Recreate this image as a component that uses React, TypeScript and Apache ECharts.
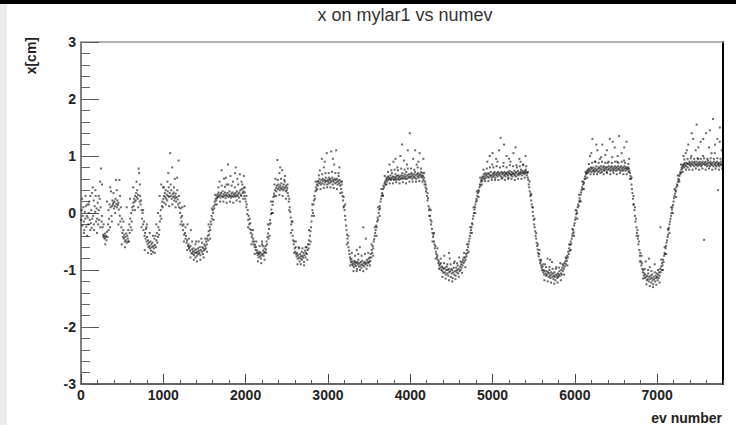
import React, { useEffect, useRef } from "react";
import * as echarts from "echarts";

const titleText = "x on mylar1 vs numev";
const xTitle = "ev number";
const yTitle = "x[cm]";

const cycle0 = [[4,-0.12],[10,0.05],[16,-0.22],[22,-0.05],[28,0.1],[34,-0.15],[40,-0.3],[46,0.02],[52,-0.1],[58,0.12],[64,-0.24],[70,-0.05],[76,0.15],[82,-0.08],[88,-0.2],[94,0.0],[100,0.2],[106,-0.12],[112,0.3],[118,-0.18],[124,0.05],[130,-0.26],[136,-0.1],[142,0.45],[148,-0.05],[154,0.22],[160,-0.3],[166,0.12],[172,0.02],[178,0.3],[184,-0.15],[190,0.08],[196,-0.1],[202,0.18],[208,-0.2],[214,0.05],[220,-0.12],[226,0.25],[232,0.55],[238,0.1],[244,0.78],[250,-0.15],[256,-0.05],[262,-0.25],[268,-0.38],[274,-0.42],[280,-0.4],[286,-0.45],[292,-0.36],[298,-0.43],[304,-0.4],[310,-0.48],[316,-0.33],[322,-0.42],[328,-0.2],[334,0.05],[340,-0.1],[346,0.15],[352,-0.25],[358,0.1],[364,0.38],[370,-0.05],[376,0.12],[382,0.22],[388,0.15],[394,0.18],[400,0.08],[406,0.2],[412,0.12],[418,0.25],[424,0.58],[430,0.16],[436,0.1],[442,0.22],[448,0.14],[454,0.18],[460,0.06],[466,0.58],[472,-0.05],[478,-0.15],[484,0.1],[490,-0.25],[496,-0.1],[502,-0.35],[508,-0.42],[514,-0.3],[520,-0.45],[526,-0.38],[532,-0.5],[538,-0.42],[544,-0.48],[550,-0.36],[556,-0.52],[562,-0.4],[568,-0.45],[574,-0.3],[580,-0.5],[586,-0.2],[592,-0.35],[598,-0.1],[604,-0.25],[610,0.0],[616,-0.15],[622,0.1],[628,0.05],[634,0.18],[640,0.12],[646,0.25],[652,0.2],[658,0.3],[664,0.22],[670,0.35],[676,0.28],[682,0.4],[688,0.25],[694,0.32],[700,0.78],[706,0.7],[712,0.2],[718,0.3],[724,0.15],[730,0.22],[736,0.05],[742,-0.1],[748,0.0],[754,-0.2],[760,-0.3],[766,-0.15],[772,-0.4],[778,-0.35],[784,-0.45],[790,-0.28],[796,-0.5],[802,-0.42],[808,-0.55],[814,-0.48],[820,-0.6],[826,-0.52],[832,-0.58],[838,-0.62],[844,-0.5],[850,-0.66],[856,-0.55],[862,-0.6],[868,-0.52],[874,-0.68],[880,-0.58],[886,-0.62],[892,-0.45],[898,-0.56],[904,-0.4],[910,-0.6],[916,-0.48],[922,-0.35],[928,-0.52],[934,-0.42],[940,-0.25],[946,-0.38],[952,-0.3],[958,-0.15],[964,-0.05],[970,0.05],[976,-0.1],[982,0.12],[988,0.2],[994,0.1]];

const cycle1 = [[1000,0.25],[1006,0.3],[1012,0.18],[1018,0.35],[1024,0.28],[1030,0.4],[1036,0.25],[1042,0.32],[1048,0.22],[1054,0.38],[1060,0.3],[1066,0.45],[1072,0.28],[1078,0.35],[1084,1.05],[1090,0.3],[1096,0.4],[1102,0.25],[1108,0.8],[1114,0.33],[1120,0.28],[1126,0.36],[1132,0.22],[1138,0.3],[1144,0.26],[1150,0.34],[1156,0.2],[1162,0.28],[1168,0.62],[1174,0.24],[1180,0.15],[1186,0.92],[1192,0.1],[1198,0.18],[1204,0.0],[1210,0.08],[1216,-0.08],[1222,-0.15],[1228,-0.05],[1234,-0.22],[1240,-0.3],[1246,-0.2],[1252,-0.38],[1258,0.12],[1264,-0.35],[1270,-0.45],[1276,-0.4],[1282,-0.52],[1288,-0.48],[1294,-0.2],[1300,-0.58],[1306,-0.55],[1312,-0.62],[1318,-0.6],[1324,-0.66],[1330,-0.58],[1336,-0.3],[1342,-0.7],[1348,-0.64],[1354,-0.72],[1360,-0.68],[1366,-0.62],[1372,-0.74],[1378,-0.66],[1384,-0.7],[1390,-0.78],[1396,-0.64],[1402,-0.7],[1408,-0.75],[1414,-0.68],[1420,-0.62],[1426,-0.72],[1432,-0.66],[1438,-0.7],[1444,-0.6],[1450,-0.74],[1456,-0.65],[1462,-0.45],[1468,-0.68],[1474,-0.6],[1480,-0.72],[1486,-0.62],[1492,-0.66],[1498,-0.55],[1504,-0.64],[1510,-0.58],[1516,-0.62],[1522,-0.5],[1528,-0.55],[1534,-0.45],[1540,-0.4],[1546,-0.48],[1552,-0.32],[1558,-0.38],[1564,-0.25],[1570,-0.3],[1576,-0.15],[1582,-0.2],[1588,-0.05],[1594,-0.1],[1600,0.05],[1606,0.0],[1612,0.12],[1618,0.08],[1624,0.2],[1630,0.15],[1636,0.25],[1642,0.22],[1648,0.3],[1654,0.26],[1660,0.33],[1666,0.28],[1672,0.36],[1678,0.3],[1684,0.55],[1690,0.32],[1696,0.27],[1702,0.35],[1708,0.75],[1714,0.3],[1720,0.38],[1726,0.28],[1732,0.33],[1738,0.6],[1744,0.3],[1750,0.36],[1756,0.26],[1762,0.32],[1768,0.5],[1774,0.3],[1780,0.35],[1786,0.85],[1792,0.28],[1798,0.32],[1804,0.38],[1810,0.3],[1816,0.65],[1822,0.27],[1828,0.34],[1834,0.3],[1840,0.36],[1846,0.55],[1852,0.28],[1858,0.33],[1864,0.3],[1870,0.7],[1876,0.35],[1882,0.29],[1888,0.32],[1894,0.38],[1900,0.6],[1906,0.3],[1912,0.34],[1918,0.27],[1924,0.36],[1930,0.68],[1936,0.4],[1942,0.32],[1948,0.3],[1954,0.42],[1960,0.5],[1966,0.35],[1972,0.38],[1978,0.44],[1984,0.3],[1990,0.36],[1996,0.25]];

const cycle2 = [[2002,0.2],[2008,0.1],[2014,0.15],[2020,-0.02],[2026,0.05],[2032,-0.12],[2038,-0.05],[2044,-0.2],[2050,-0.28],[2056,-0.18],[2062,-0.35],[2068,-0.3],[2074,-0.42],[2080,-0.38],[2086,-0.5],[2092,-0.45],[2098,-0.55],[2104,-0.5],[2110,-0.6],[2116,-0.56],[2122,-0.65],[2128,-0.6],[2134,-0.7],[2140,-0.66],[2146,-0.74],[2152,-0.7],[2158,-0.78],[2164,-0.72],[2170,-0.68],[2176,-0.76],[2182,-0.7],[2188,-0.8],[2194,-0.74],[2200,-0.55],[2206,-0.72],[2212,-0.66],[2218,-0.75],[2224,-0.7],[2230,-0.62],[2236,-0.68],[2242,-0.58],[2248,-0.64],[2254,-0.5],[2260,-0.55],[2266,-0.42],[2272,-0.36],[2278,-0.45],[2284,-0.28],[2290,-0.2],[2296,-0.12],[2302,-0.18],[2308,-0.02],[2314,0.06],[2320,0.0],[2326,0.14],[2332,0.2],[2338,0.28],[2344,0.34],[2350,0.3],[2356,0.4],[2362,0.6],[2368,0.44],[2374,0.38],[2380,0.48],[2386,0.93],[2392,0.42],[2398,0.5],[2404,0.45],[2410,0.7],[2416,0.4],[2422,0.48],[2428,0.44],[2434,0.52],[2440,0.42],[2446,0.75],[2452,0.46],[2458,0.4],[2464,0.5],[2470,0.43],[2476,0.55],[2482,0.45],[2488,0.38],[2494,0.48],[2500,0.4],[2506,0.44],[2512,0.35],[2518,0.3],[2524,0.2],[2530,0.25],[2536,0.1],[2542,0.02],[2548,-0.08],[2554,-0.2],[2560,-0.15],[2566,-0.3],[2572,-0.4],[2578,-0.48],[2584,-0.55],[2590,-0.5],[2596,-0.62],[2602,-0.68],[2608,-0.6],[2614,-0.72],[2620,-0.76],[2626,-0.7],[2632,-0.8],[2638,-0.74],[2644,-0.6],[2650,-0.78],[2656,-0.85],[2662,-0.72],[2668,-0.8],[2674,-0.76],[2680,-0.68],[2686,-0.82],[2692,-0.75],[2698,-0.78],[2704,-0.7],[2710,-0.86],[2716,-0.74],[2722,-0.66],[2728,-0.78],[2734,-0.7],[2740,-0.6],[2746,-0.72],[2752,-0.65],[2758,-0.55],[2764,-0.62],[2770,-0.48],[2776,-0.55],[2782,-0.4],[2788,-0.32],[2794,-0.25],[2800,-0.15],[2806,-0.05],[2812,0.05],[2818,0.0],[2824,0.15],[2830,0.22],[2836,0.3],[2842,0.25],[2848,0.38],[2854,0.45],[2860,0.4],[2866,0.5],[2872,0.55],[2878,0.48],[2884,0.56],[2890,0.52],[2896,0.6],[2902,0.75],[2908,0.54],[2914,0.5],[2920,0.58],[2926,0.95],[2932,0.52],[2938,0.6],[2944,0.56],[2950,0.8],[2956,0.5],[2962,0.58],[2968,0.54],[2974,0.62],[2980,0.56],[2986,1.05],[2992,0.5],[2998,0.58]];

const cycle3 = [[3004,0.55],[3010,0.62],[3016,0.52],[3022,0.58],[3028,0.6],[3034,0.54],[3040,1.08],[3046,0.56],[3052,0.62],[3058,0.5],[3064,0.58],[3070,0.55],[3076,0.85],[3082,0.6],[3088,0.52],[3094,0.58],[3100,1.1],[3106,0.54],[3112,0.6],[3118,0.5],[3124,0.56],[3130,0.7],[3136,0.52],[3142,0.58],[3148,0.48],[3154,0.55],[3160,0.42],[3166,0.5],[3172,0.36],[3178,0.3],[3184,0.22],[3190,0.28],[3196,0.12],[3202,0.05],[3208,-0.05],[3214,-0.12],[3220,-0.22],[3226,-0.3],[3232,-0.38],[3238,-0.45],[3244,-0.52],[3250,-0.6],[3256,-0.66],[3262,-0.72],[3268,-0.78],[3274,-0.82],[3280,-0.86],[3286,-0.8],[3292,-0.9],[3298,-0.85],[3304,-0.92],[3310,-0.88],[3316,-0.95],[3322,-0.84],[3328,-0.9],[3334,-0.86],[3340,-0.93],[3346,-0.88],[3352,-0.98],[3358,-0.86],[3364,-0.9],[3370,-0.82],[3376,-0.94],[3382,-0.88],[3388,-0.6],[3394,-0.92],[3400,-0.86],[3406,-0.96],[3412,-0.9],[3418,-0.84],[3424,-0.92],[3430,-0.25],[3436,-0.88],[3442,-0.94],[3448,-0.86],[3454,-0.9],[3460,-0.45],[3466,-0.88],[3472,-0.82],[3478,-0.92],[3484,-0.85],[3490,-0.88],[3496,-0.8],[3502,-0.86],[3508,-0.78],[3514,-0.84],[3520,-0.72],[3526,-0.78],[3532,-0.65],[3538,-0.7],[3544,-0.58],[3550,-0.62],[3556,-0.5],[3562,-0.46],[3568,-0.4],[3574,-0.35],[3580,-0.3],[3586,-0.22],[3592,-0.25],[3598,-0.15],[3604,-0.08],[3610,-0.12],[3616,0.0],[3622,0.06],[3628,0.12],[3634,0.08],[3640,0.2],[3646,0.25],[3652,0.3],[3658,0.35],[3664,0.32],[3670,0.42],[3676,0.48],[3682,0.45],[3688,0.52],[3694,0.55],[3700,0.5],[3706,0.58],[3712,0.62],[3718,0.55],[3724,0.6],[3730,0.64],[3736,0.58],[3742,0.62],[3748,0.85],[3754,0.6],[3760,0.66],[3766,0.58],[3772,0.62],[3778,0.7],[3784,0.6],[3790,0.64],[3796,0.9],[3802,0.58],[3808,0.63],[3814,0.6],[3820,0.68],[3826,0.62],[3832,0.58],[3838,0.65],[3844,0.8],[3850,0.6],[3856,0.66],[3862,0.62],[3868,0.58],[3874,0.64],[3880,1.0],[3886,0.6],[3892,0.66],[3898,0.62],[3904,0.7],[3910,0.6],[3916,0.65],[3922,0.92],[3928,0.62],[3934,0.68],[3940,0.6],[3946,0.64],[3952,0.72],[3958,0.6],[3964,0.66],[3970,1.1],[3976,0.62],[3982,0.68],[3988,0.64],[3994,1.4]];

const cycle4 = [[4000,0.62],[4006,0.68],[4012,0.64],[4018,0.7],[4024,0.6],[4030,0.66],[4036,0.95],[4042,0.63],[4048,0.68],[4054,0.62],[4060,0.72],[4066,0.66],[4072,0.6],[4078,0.85],[4084,0.68],[4090,0.64],[4096,0.7],[4102,0.62],[4108,0.66],[4114,1.05],[4120,0.68],[4126,0.64],[4132,0.72],[4138,0.66],[4144,0.62],[4150,0.7],[4156,0.65],[4162,0.58],[4168,0.62],[4174,0.5],[4180,0.55],[4186,0.45],[4192,0.38],[4198,0.42],[4204,0.3],[4210,0.22],[4216,0.26],[4222,0.12],[4228,0.05],[4234,0.08],[4240,-0.05],[4246,-0.12],[4252,-0.2],[4258,-0.15],[4264,-0.28],[4270,-0.35],[4276,-0.42],[4282,-0.38],[4288,-0.5],[4294,-0.55],[4300,-0.62],[4306,-0.58],[4312,-0.68],[4318,-0.72],[4324,-0.78],[4330,-0.75],[4336,-0.82],[4342,-0.88],[4348,-0.85],[4354,-0.92],[4360,-0.9],[4366,-0.96],[4372,-0.88],[4378,-1.0],[4384,-0.94],[4390,-1.02],[4396,-0.96],[4402,-1.05],[4408,-0.98],[4414,-0.75],[4420,-1.04],[4426,-0.96],[4432,-1.08],[4438,-1.0],[4444,-0.94],[4450,-1.06],[4456,-1.0],[4462,-1.1],[4468,-0.98],[4474,-1.04],[4480,-0.8],[4486,-1.02],[4492,-1.12],[4498,-0.98],[4504,-1.06],[4510,-1.0],[4516,-1.14],[4522,-1.04],[4528,-0.96],[4534,-1.08],[4540,-0.85],[4546,-1.02],[4552,-1.1],[4558,-0.96],[4564,-1.04],[4570,-1.0],[4576,-0.92],[4582,-1.06],[4588,-0.98],[4594,-0.78],[4600,-1.02],[4606,-0.94],[4612,-1.0],[4618,-0.9],[4624,-0.96],[4630,-0.86],[4636,-0.92],[4642,-0.82],[4648,-0.88],[4654,-0.7],[4660,-0.85],[4666,-0.78],[4672,-0.82],[4678,-0.72],[4684,-0.76],[4690,-0.65],[4696,-0.7],[4702,-0.6],[4708,-0.55],[4714,-0.5],[4720,-0.45],[4726,-0.4],[4732,-0.35],[4738,-0.3],[4744,-0.25],[4750,-0.18],[4756,-0.2],[4762,-0.1],[4768,-0.05],[4774,0.0],[4780,0.06],[4786,0.1],[4792,0.15],[4798,0.2],[4804,0.25],[4810,0.22],[4816,0.3],[4822,0.35],[4828,0.4],[4834,0.38],[4840,0.45],[4846,0.5],[4852,0.48],[4858,0.55],[4864,0.58],[4870,0.62],[4876,0.56],[4882,0.64],[4888,0.6],[4894,0.68],[4900,0.64],[4906,0.6],[4912,0.7],[4918,0.66],[4924,0.62],[4930,0.68],[4936,0.9],[4942,0.64],[4948,0.7],[4954,0.62],[4960,0.68],[4966,1.0],[4972,0.65],[4978,0.72],[4984,0.66],[4990,0.62],[4996,0.85]];

const cycle5 = [[5002,0.68],[5008,0.64],[5014,0.7],[5020,0.66],[5026,0.72],[5032,0.62],[5038,0.68],[5044,0.95],[5050,0.66],[5056,0.7],[5062,0.64],[5068,0.72],[5074,0.68],[5080,1.1],[5086,0.66],[5092,0.7],[5098,1.32],[5104,0.64],[5110,0.72],[5116,0.68],[5122,0.62],[5128,0.7],[5134,0.88],[5140,0.66],[5146,0.72],[5152,0.68],[5158,0.64],[5164,0.7],[5170,1.0],[5176,0.68],[5182,0.72],[5188,0.66],[5194,0.62],[5200,0.7],[5206,0.74],[5212,0.68],[5218,0.9],[5224,0.66],[5230,0.72],[5236,0.68],[5242,0.64],[5248,0.7],[5254,1.05],[5260,0.68],[5266,0.74],[5272,0.66],[5278,0.7],[5284,0.64],[5290,0.72],[5296,0.8],[5302,0.68],[5308,0.74],[5314,0.66],[5320,0.7],[5326,0.95],[5332,0.68],[5338,0.72],[5344,0.76],[5350,0.7],[5356,0.66],[5362,0.74],[5368,0.7],[5374,0.85],[5380,0.72],[5386,0.68],[5392,0.74],[5398,0.7],[5404,0.76],[5410,0.72],[5416,0.66],[5422,0.7],[5428,0.62],[5434,0.58],[5440,0.5],[5446,0.45],[5452,0.38],[5458,0.3],[5464,0.34],[5470,0.22],[5476,0.15],[5482,0.1],[5488,0.02],[5494,-0.05],[5500,-0.12],[5506,-0.2],[5512,-0.25],[5518,-0.32],[5524,-0.4],[5530,-0.45],[5536,-0.52],[5542,-0.58],[5548,-0.64],[5554,-0.7],[5560,-0.76],[5566,-0.72],[5572,-0.82],[5578,-0.88],[5584,-0.85],[5590,-0.92],[5596,-0.96],[5602,-1.0],[5608,-0.94],[5614,-1.04],[5620,-1.0],[5626,-1.08],[5632,-1.02],[5638,-0.9],[5644,-1.06],[5650,-1.1],[5656,-1.02],[5662,-1.08],[5668,-0.8],[5674,-1.04],[5680,-1.12],[5686,-1.06],[5692,-1.0],[5698,-1.1],[5704,-1.14],[5710,-1.04],[5716,-1.08],[5722,-0.86],[5728,-1.12],[5734,-1.06],[5740,-1.16],[5746,-1.1],[5752,-1.04],[5758,-1.12],[5764,-1.18],[5770,-1.08],[5776,-0.95],[5782,-1.1],[5788,-1.14],[5794,-1.06],[5800,-1.12],[5806,-1.08],[5812,-1.02],[5818,-1.1],[5824,-0.88],[5830,-1.06],[5836,-1.0],[5842,-1.08],[5848,-0.96],[5854,-1.02],[5860,-0.92],[5866,-0.98],[5872,-0.88],[5878,-0.94],[5884,-0.85],[5890,-0.9],[5896,-0.8],[5902,-0.84],[5908,-0.75],[5914,-0.78],[5920,-0.68],[5926,-0.72],[5932,-0.62],[5938,-0.66],[5944,-0.56],[5950,-0.5],[5956,-0.54],[5962,-0.45],[5968,-0.4],[5974,-0.36],[5980,-0.3],[5986,-0.34],[5992,-0.22],[5998,-0.18]];

const cycle6 = [[6004,-0.12],[6010,-0.08],[6016,-0.02],[6022,0.04],[6028,0.0],[6034,0.1],[6040,0.15],[6046,0.12],[6052,0.2],[6058,0.26],[6064,0.22],[6070,0.32],[6076,0.36],[6082,0.4],[6088,0.45],[6094,0.42],[6100,0.5],[6106,0.55],[6112,0.52],[6118,0.6],[6124,0.64],[6130,0.6],[6136,0.68],[6142,0.7],[6148,0.74],[6154,0.7],[6160,0.76],[6166,0.72],[6172,0.78],[6178,0.74],[6184,1.0],[6190,0.76],[6196,0.8],[6202,0.72],[6208,0.78],[6214,1.3],[6220,0.74],[6226,0.8],[6232,0.76],[6238,0.72],[6244,0.9],[6250,0.78],[6256,0.74],[6262,0.82],[6268,0.76],[6274,1.1],[6280,0.72],[6286,0.78],[6292,0.8],[6298,0.74],[6304,0.95],[6310,0.78],[6316,0.82],[6322,0.76],[6328,0.72],[6334,1.2],[6340,0.8],[6346,0.76],[6352,0.82],[6358,0.74],[6364,0.78],[6370,1.02],[6376,0.8],[6382,0.76],[6388,0.72],[6394,0.8],[6400,0.88],[6406,0.76],[6412,0.82],[6418,0.78],[6424,1.3],[6430,0.74],[6436,0.8],[6442,0.76],[6448,0.82],[6454,0.98],[6460,0.78],[6466,0.74],[6472,0.8],[6478,0.76],[6484,1.15],[6490,0.82],[6496,0.78],[6502,0.74],[6508,0.8],[6514,0.9],[6520,0.76],[6526,0.82],[6532,0.78],[6538,1.35],[6544,0.76],[6550,0.8],[6556,0.74],[6562,0.82],[6568,1.05],[6574,0.78],[6580,0.74],[6586,0.8],[6592,0.76],[6598,0.92],[6604,0.82],[6610,0.78],[6616,0.74],[6622,0.8],[6628,1.25],[6634,0.78],[6640,0.76],[6646,0.8],[6652,0.72],[6658,0.78],[6664,0.74],[6670,0.7],[6676,0.65],[6682,0.6],[6688,0.5],[6694,0.42],[6700,0.35],[6706,0.25],[6712,0.3],[6718,0.15],[6724,0.05],[6730,-0.05],[6736,-0.15],[6742,-0.1],[6748,-0.25],[6754,-0.35],[6760,-0.3],[6766,-0.45],[6772,-0.55],[6778,-0.5],[6784,-0.65],[6790,-0.75],[6796,-0.7],[6802,-0.85],[6808,-0.92],[6814,-0.88],[6820,-0.98],[6826,-1.04],[6832,-1.0],[6838,-1.1],[6844,-1.06],[6850,-1.14],[6856,-1.08],[6862,-0.85],[6868,-1.12],[6874,-1.18],[6880,-1.1],[6886,-1.16],[6892,-1.06],[6898,-1.2],[6904,-1.12],[6910,-0.95],[6916,-1.16],[6922,-1.1],[6928,-1.22],[6934,-1.14],[6940,-1.08],[6946,-1.18],[6952,-1.25],[6958,-1.12],[6964,-1.16],[6970,-0.9],[6976,-1.2],[6982,-1.1],[6988,-1.14],[6994,-1.06]];

const cycle7 = [[7000,-1.12],[7006,-1.18],[7012,-1.08],[7018,-1.14],[7024,-1.04],[7030,-1.1],[7036,-0.98],[7040,-0.25],[7042,-1.04],[7048,-0.94],[7054,-1.0],[7060,-0.88],[7066,-0.92],[7072,-0.82],[7078,-0.86],[7084,-0.75],[7090,-0.7],[7096,-0.72],[7102,-0.62],[7108,-0.58],[7114,-0.52],[7120,-0.48],[7126,-0.42],[7132,-0.38],[7138,-0.3],[7144,-0.26],[7150,-0.2],[7156,-0.15],[7162,-0.1],[7168,-0.05],[7174,0.0],[7180,0.06],[7186,0.1],[7192,0.14],[7198,0.2],[7204,0.26],[7210,0.3],[7216,0.34],[7222,0.4],[7228,0.38],[7234,0.45],[7240,0.5],[7246,0.48],[7252,0.55],[7258,0.6],[7264,0.58],[7270,0.65],[7276,0.68],[7282,0.72],[7288,0.7],[7294,0.76],[7300,0.8],[7306,0.78],[7312,0.84],[7318,0.82],[7324,0.86],[7330,0.8],[7336,0.88],[7342,0.84],[7348,1.05],[7354,0.82],[7360,0.88],[7366,0.86],[7372,0.8],[7378,1.2],[7384,0.86],[7390,0.9],[7396,0.84],[7402,0.88],[7408,0.82],[7414,1.0],[7420,0.86],[7426,0.9],[7432,0.84],[7438,1.3],[7444,0.88],[7450,0.82],[7456,0.9],[7462,0.86],[7468,1.1],[7474,0.84],[7480,0.9],[7486,0.86],[7492,0.82],[7498,0.95],[7504,0.88],[7510,0.84],[7516,0.9],[7522,0.86],[7528,1.25],[7534,0.82],[7540,0.88],[7546,0.84],[7552,0.9],[7558,1.0],[7564,0.86],[7570,-0.47],[7576,0.88],[7582,0.84],[7588,0.9],[7594,1.4],[7600,0.86],[7606,0.82],[7612,0.88],[7618,0.92],[7624,0.84],[7630,1.15],[7636,0.88],[7642,0.82],[7648,0.9],[7654,0.86],[7660,1.05],[7666,0.84],[7672,0.88],[7678,1.65],[7684,0.82],[7690,0.9],[7696,0.86],[7702,1.2],[7708,0.84],[7714,0.88],[7720,0.82],[7726,0.9],[7732,1.3],[7738,0.86],[7740,0.4],[7744,0.84],[7750,0.88],[7756,0.82],[7762,1.5],[7768,0.86],[7774,0.9],[7780,0.84],[7786,1.1],[7792,0.86],[7798,0.82]];

const spreadA = [[15,0.25],[35,-0.35],[55,0.3],[75,-0.4],[95,0.15],[115,-0.3],[135,0.35],[155,-0.2],[175,0.4],[195,-0.35],[215,0.3],[235,-0.25],[255,0.5],[275,-0.2],[295,-0.55],[315,0.2],[335,-0.3],[355,0.45],[375,-0.15],[395,0.35],[415,0.0],[435,0.4],[455,-0.2],[475,0.3],[495,-0.55],[515,-0.15],[535,-0.6],[555,0.1],[575,-0.5],[595,0.25],[615,-0.3],[635,0.45],[655,0.05],[675,0.55],[695,0.1],[715,0.5],[735,-0.25],[755,0.05],[775,-0.65],[795,-0.25],[815,-0.7],[835,-0.35],[855,-0.72],[875,-0.4],[895,-0.7],[915,-0.2],[935,0.0],[955,0.3],[975,0.5],[995,0.45],[1010,0.45],[1030,0.15],[1050,0.55],[1070,0.12],[1090,0.5],[1110,0.15],[1130,0.45],[1150,0.1],[1170,0.4],[1190,0.3],[1210,-0.2],[1230,0.1],[1250,-0.5],[1270,-0.25],[1290,-0.65],[1310,-0.45],[1330,-0.78],[1350,-0.5],[1370,-0.82],[1390,-0.55],[1410,-0.85],[1430,-0.5],[1450,-0.82],[1470,-0.52],[1490,-0.78],[1510,-0.45],[1530,-0.68],[1550,-0.2],[1570,-0.45],[1590,0.08],[1610,-0.12],[1630,0.32],[1650,0.15],[1670,0.45],[1690,0.2],[1710,0.48],[1730,0.2],[1750,0.46],[1770,0.18],[1790,0.5],[1810,0.2],[1830,0.48],[1850,0.18],[1870,0.45],[1890,0.22],[1910,0.5],[1930,0.2],[1950,0.55],[1970,0.25],[1990,0.45]];

const spreadB = [[2010,0.3],[2030,-0.25],[2050,-0.1],[2070,-0.55],[2090,-0.3],[2110,-0.72],[2130,-0.5],[2150,-0.85],[2170,-0.58],[2190,-0.88],[2210,-0.58],[2230,-0.82],[2250,-0.7],[2270,-0.2],[2290,-0.4],[2310,0.2],[2330,0.0],[2350,0.5],[2370,0.3],[2390,0.58],[2410,0.32],[2430,0.6],[2450,0.3],[2470,0.58],[2490,0.25],[2510,0.5],[2530,0.05],[2550,-0.35],[2570,-0.15],[2590,-0.7],[2610,-0.5],[2630,-0.9],[2650,-0.62],[2670,-0.9],[2690,-0.62],[2710,-0.92],[2730,-0.6],[2750,-0.82],[2770,-0.3],[2790,-0.5],[2810,0.15],[2830,-0.05],[2850,0.55],[2870,0.42],[2890,0.66],[2910,0.42],[2930,0.68],[2950,0.44],[2970,0.7],[2990,0.45],[3010,0.7],[3030,0.45],[3050,0.72],[3070,0.44],[3090,0.7],[3110,0.42],[3130,0.65],[3150,0.35],[3170,0.55],[3190,0.1],[3210,0.15],[3230,-0.55],[3250,-0.4],[3270,-0.92],[3290,-0.7],[3310,-1.02],[3330,-0.75],[3350,-1.02],[3370,-0.72],[3390,-1.0],[3410,-0.75],[3430,-1.02],[3450,-0.72],[3470,-0.98],[3490,-0.7],[3510,-0.92],[3530,-0.55],[3550,-0.75],[3570,-0.25],[3590,-0.4],[3610,0.1],[3630,-0.05],[3650,0.42],[3670,0.3],[3690,0.65],[3710,0.5],[3730,0.72],[3750,0.52],[3770,0.75],[3790,0.52],[3810,0.76],[3830,0.54],[3850,0.75],[3870,0.52],[3890,0.78],[3910,0.54],[3930,0.76],[3950,0.52],[3970,0.78],[3990,0.55]];

const spreadC = [[4010,0.78],[4030,0.55],[4050,0.76],[4070,0.55],[4090,0.8],[4110,0.56],[4130,0.78],[4150,0.55],[4170,0.7],[4190,0.5],[4210,0.35],[4230,-0.05],[4250,0.05],[4270,-0.5],[4290,-0.35],[4310,-0.8],[4330,-0.62],[4350,-0.98],[4370,-0.8],[4390,-1.12],[4410,-0.88],[4430,-1.15],[4450,-0.9],[4470,-1.18],[4490,-0.9],[4510,-1.2],[4530,-0.88],[4550,-1.16],[4570,-0.88],[4590,-1.12],[4610,-0.85],[4630,-1.05],[4650,-0.78],[4670,-0.95],[4690,-0.55],[4710,-0.68],[4730,-0.25],[4750,-0.35],[4770,0.1],[4790,0.0],[4810,0.38],[4830,0.28],[4850,0.62],[4870,0.5],[4890,0.76],[4910,0.56],[4930,0.78],[4950,0.56],[4970,0.8],[4990,0.58],[5010,0.8],[5030,0.58],[5050,0.82],[5070,0.58],[5090,0.8],[5110,0.6],[5130,0.82],[5150,0.58],[5170,0.8],[5190,0.6],[5210,0.84],[5230,0.6],[5250,0.82],[5270,0.58],[5290,0.84],[5310,0.6],[5330,0.82],[5350,0.6],[5370,0.84],[5390,0.62],[5410,0.82],[5430,0.72],[5450,0.55],[5470,0.32],[5490,0.1],[5510,-0.1],[5530,-0.35],[5550,-0.55],[5570,-0.65],[5590,-0.82],[5610,-0.9],[5630,-1.18],[5650,-0.95],[5670,-1.2],[5690,-0.95],[5710,-1.22],[5730,-0.98],[5750,-1.24],[5770,-0.98],[5790,-1.22],[5810,-0.96],[5830,-1.18],[5850,-0.9],[5870,-1.08],[5890,-0.78],[5910,-0.92],[5930,-0.55],[5950,-0.65],[5970,-0.28],[5990,-0.4]];

const spreadD = [[6010,0.05],[6030,-0.1],[6050,0.32],[6070,0.2],[6090,0.55],[6110,0.42],[6130,0.72],[6150,0.62],[6170,0.86],[6190,0.68],[6210,0.88],[6230,0.68],[6250,0.9],[6270,0.68],[6290,0.88],[6310,0.7],[6330,0.9],[6350,0.68],[6370,0.88],[6390,0.7],[6410,0.9],[6430,0.68],[6450,0.88],[6470,0.7],[6490,0.9],[6510,0.68],[6530,0.88],[6550,0.7],[6570,0.9],[6590,0.68],[6610,0.88],[6630,0.68],[6650,0.86],[6670,0.6],[6690,0.62],[6710,0.15],[6730,0.1],[6750,-0.4],[6770,-0.4],[6790,-0.85],[6810,-0.75],[6830,-1.15],[6850,-0.98],[6870,-1.25],[6890,-1.0],[6910,-1.28],[6930,-1.02],[6950,-1.3],[6970,-1.04],[6990,-1.26],[7010,-1.0],[7030,-1.22],[7050,-0.82],[7070,-1.0],[7090,-0.6],[7110,-0.72],[7130,-0.28],[7150,-0.35],[7170,0.1],[7190,0.0],[7210,0.42],[7230,0.28],[7250,0.66],[7270,0.55],[7290,0.85],[7310,0.72],[7330,0.94],[7350,0.76],[7370,0.95],[7390,0.76],[7410,0.96],[7430,0.76],[7450,0.95],[7470,0.78],[7490,0.96],[7510,0.76],[7530,0.95],[7550,0.78],[7570,0.96],[7590,0.76],[7610,0.95],[7630,0.78],[7650,0.96],[7670,0.76],[7690,0.95],[7710,0.78],[7730,0.96],[7750,0.76],[7770,0.95],[7790,0.78]];

const outliers = [[1060,0.7],[1140,0.6],[1760,0.62],[1880,0.8],[1980,0.65],[2420,0.8],[2480,0.65],[2960,0.9],[3060,0.95],[3140,0.8],[3820,0.95],[3900,1.2],[4060,1.1],[4100,0.9],[4160,0.95],[3960,0.85],[5000,1.05],[5060,0.9],[5140,1.2],[5200,0.95],[5280,1.15],[5340,0.9],[5400,1.0],[6200,1.05],[6260,1.2],[6320,0.98],[6390,1.1],[6460,1.25],[6520,1.0],[6600,1.15],[6660,0.95],[7360,1.1],[7420,1.4],[7500,1.15],[7560,1.3],[7640,1.45],[7700,1.05],[7760,1.25],[7320,1.0],[7480,1.55],[4470,-0.7],[5700,-0.82],[6900,-0.8],[3350,-0.65],[2200,-0.5],[1400,-0.5],[800,-0.2]];

const X_MIN = 0;
const X_MAX = 7800;
const Y_MIN = -3;
const Y_MAX = 3;

export default function App() {
  const ref = useRef<HTMLDivElement>(null);
  useEffect(() => {
    if (!ref.current) return;
    const chart = echarts.init(ref.current, null, { renderer: "svg" });
    const data = [
      ...cycle0, ...cycle1, ...cycle2, ...cycle3,
      ...cycle4, ...cycle5, ...cycle6, ...cycle7,
      ...spreadA, ...spreadB, ...spreadC, ...spreadD, ...outliers,
    ];
    const labelFont = {
      fontFamily: "Liberation Sans, Arial, sans-serif",
      fontSize: 14,
      fontWeight: "bold" as const,
      color: "#222",
    };
    const hiddenParts = {
      axisLabel: { show: false },
      splitLine: { show: false },
    };
    chart.setOption({
      animation: false,
      backgroundColor: "#ffffff",
      title: {
        text: titleText,
        left: 400,
        top: 1,
        textAlign: "center",
        textStyle: {
          fontFamily: "Liberation Sans, Arial, sans-serif",
          fontSize: 18,
          fontWeight: "normal",
          color: "#333",
        },
      },
      grid: { left: 81, right: 13, top: 42, bottom: 41, containLabel: false },
      xAxis: [
        {
          type: "value",
          min: X_MIN,
          max: X_MAX,
          interval: 1000,
          position: "bottom",
          axisLine: { onZero: false, lineStyle: { color: "#333", width: 1.5 } },
          axisTick: { inside: true, length: 10, lineStyle: { color: "#444" } },
          axisLabel: {
            ...labelFont,
            margin: 4,
            showMaxLabel: false,
            formatter: (v: number) => (v % 1000 === 0 ? String(v) : ""),
          },
          splitLine: { show: false },
        },
        {
          type: "value",
          min: X_MIN,
          max: X_MAX,
          interval: 200,
          position: "bottom",
          axisLine: { show: false, onZero: false },
          axisTick: { inside: true, length: 4, lineStyle: { color: "#555" } },
          ...hiddenParts,
        },
        {
          type: "value",
          min: X_MIN,
          max: X_MAX,
          position: "top",
          axisLine: { onZero: false, lineStyle: { color: "#999", width: 1.5 } },
          axisTick: { show: false },
          ...hiddenParts,
        },
      ],
      yAxis: [
        {
          type: "value",
          min: Y_MIN,
          max: Y_MAX,
          interval: 1,
          position: "left",
          axisLine: { onZero: false, lineStyle: { color: "#555", width: 1.5 } },
          axisTick: { inside: true, length: 18, lineStyle: { color: "#555" } },
          axisLabel: { ...labelFont, margin: 5 },
          splitLine: { show: false },
        },
        {
          type: "value",
          min: Y_MIN,
          max: Y_MAX,
          interval: 0.2,
          position: "left",
          axisLine: { show: false, onZero: false },
          axisTick: { inside: true, length: 9, lineStyle: { color: "#666" } },
          ...hiddenParts,
        },
        {
          type: "value",
          min: Y_MIN,
          max: Y_MAX,
          position: "right",
          axisLine: { onZero: false, lineStyle: { color: "#000", width: 2 } },
          axisTick: { show: false },
          ...hiddenParts,
        },
      ],
      series: [
        {
          type: "scatter",
          data,
          xAxisIndex: 0,
          yAxisIndex: 0,
          symbol: "rect",
          symbolSize: 2,
          itemStyle: { color: "#000", opacity: 0.6 },
        },
      ],
      graphic: [
        { type: "rect", left: 0, top: 0, shape: { width: 736, height: 4 }, style: { fill: "#000" } },
        { type: "rect", left: 0, top: 4, shape: { width: 7, height: 421 }, style: { fill: "#ececec" } },
        {
          type: "text",
          left: 24,
          top: 37,
          rotation: Math.PI / 2,
          originX: 0,
          originY: 0,
          style: {
            text: yTitle,
            fontFamily: "Liberation Sans, Arial, sans-serif",
            fontSize: 14,
            fontWeight: "bold",
            fill: "#222",
          },
        },
        {
          type: "text",
          right: 14,
          top: 411,
          style: {
            text: xTitle,
            fontFamily: "Liberation Sans, Arial, sans-serif",
            fontSize: 14,
            fontWeight: "bold",
            fill: "#222",
          },
        },
      ],
    });
    return () => chart.dispose();
  }, []);
  return (
    <div
      ref={ref}
      style={{ position: "fixed", left: 0, top: 0, width: 736, height: 425 }}
    />
  );
}
